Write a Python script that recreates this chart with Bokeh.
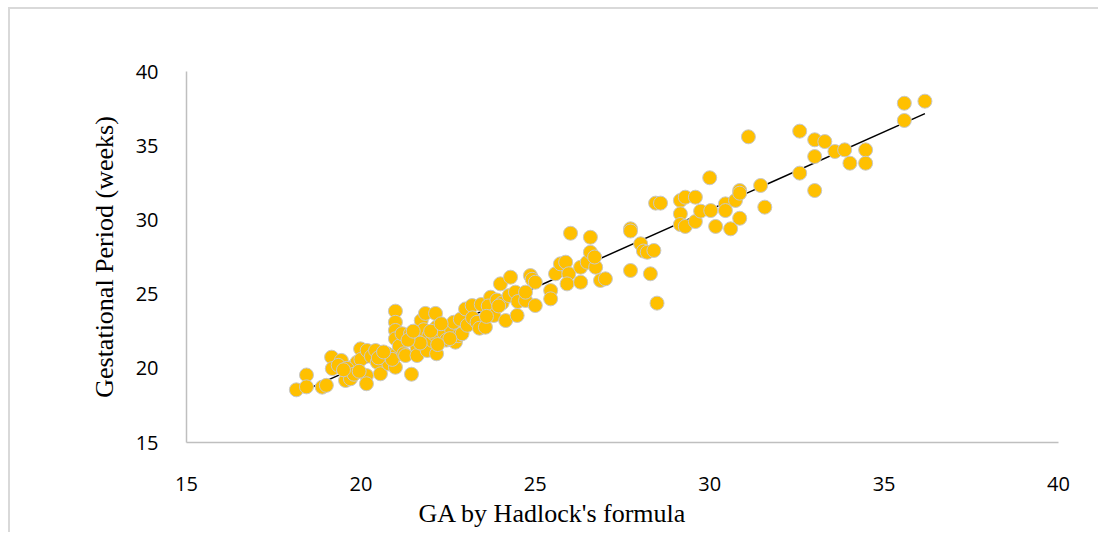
import numpy as np
from bokeh.plotting import figure
from bokeh.models import Range1d, Title, FixedTicker
from bokeh.embed import file_html
from bokeh.resources import INLINE

# GA by Hadlock's formula (x) vs Gestational Period in weeks (y)
ga_hadlock = [
    18.15, 18.44, 18.44, 18.89, 19.01,
    19.16, 19.18, 19.44, 19.35, 19.56, 19.70, 19.75, 19.89, 19.99, 19.60, 19.80, 20.00,
    20.18, 20.16, 20.16, 20.30, 20.42, 20.47, 20.56, 20.60, 20.75, 20.80, 20.99, 20.99,
    20.99, 20.99, 20.99, 20.99, 21.10, 20.90,
    21.18, 21.23, 21.28, 21.42, 21.45, 21.55, 21.61, 21.61, 21.73, 21.85, 21.90, 21.80,
    21.95, 22.05, 22.14, 22.17, 22.17, 22.10, 21.70,
    22.38, 22.45, 22.60, 22.66, 22.71, 22.80, 22.90, 22.85, 23.00, 23.05, 23.19, 23.20,
    23.33, 23.45, 23.40,
    23.57, 23.72, 23.65, 23.81, 23.90, 24.00, 24.05, 24.15, 24.29, 24.25, 24.43, 24.48,
    24.50, 24.72, 24.72, 24.86, 24.91, 25.00, 25.00,
    25.44, 25.44, 25.58, 25.72, 25.87, 25.96, 25.91, 26.01, 26.30, 26.30, 26.49, 26.58,
    26.58, 26.73, 26.87, 27.01, 26.70,
    27.73, 27.73, 27.73, 28.02, 28.10, 28.21, 28.30, 28.40, 28.49, 28.45, 28.59,
    29.16, 29.30, 29.59, 29.16, 29.16, 29.30, 29.59, 29.74, 30.03, 30.00, 30.17, 30.45,
    30.45, 30.60, 30.74, 30.86, 30.86, 30.86, 31.11, 31.46, 31.58,
    32.58, 32.58, 33.01, 33.30, 33.01, 33.01, 33.59, 33.87, 34.02, 34.47, 34.47, 35.58,
    35.58, 36.17,
    19.50, 19.95, 20.50, 20.65, 21.35, 21.50, 22.00, 22.30, 22.55, 23.60, 23.95, 22.20,
]
gestational_weeks = [
    18.55, 19.55, 18.75, 18.73, 18.85,
    20.75, 19.98, 20.53, 20.20, 19.18, 19.29, 20.07, 20.41, 21.31, 20.00, 19.60, 20.60,
    21.20, 19.51, 18.96, 20.80, 21.20, 20.41, 19.63, 20.90, 20.98, 20.30, 20.07, 23.85,
    23.10, 22.55, 21.99, 20.86, 21.50, 20.60,
    22.33, 20.98, 20.86, 22.33, 19.60, 21.90, 21.42, 20.86, 23.22, 23.70, 21.20, 22.60,
    22.20, 21.87, 23.70, 22.77, 20.98, 22.30, 21.70,
    22.40, 21.90, 22.60, 23.10, 21.76, 22.20, 22.33, 23.30, 24.00, 22.90, 24.23, 23.40,
    23.10, 24.30, 22.70,
    22.77, 24.79, 24.20, 23.56, 24.60, 25.69, 24.40, 23.22, 26.14, 24.90, 25.13, 23.56,
    24.50, 24.57, 25.13, 26.25, 26.00, 25.80, 24.23,
    25.24, 24.68, 26.37, 27.04, 27.15, 26.37, 25.69, 29.10, 26.81, 25.80, 27.15, 27.82,
    28.83, 26.81, 25.92, 26.03, 27.50,
    29.40, 29.25, 26.59, 28.39, 27.90, 27.82, 26.37, 27.94, 24.39, 31.13, 31.13,
    31.31, 31.53, 31.53, 30.41, 29.69, 29.56, 29.89, 30.59, 30.63, 32.84, 29.56, 31.08,
    30.63, 29.40, 31.31, 31.98, 31.80, 30.11, 35.60, 32.32, 30.86,
    35.98, 33.15, 35.40, 35.28, 34.27, 31.98, 34.61, 34.72, 33.82, 34.72, 33.82, 37.86,
    36.70, 38.00,
    19.90, 19.80, 20.70, 21.10, 21.90, 22.50, 22.50, 23.00, 22.00, 23.50, 24.20, 21.60,
]

x_ticks = [15, 20, 25, 30, 35, 40]
y_ticks = [15, 20, 25, 30, 35, 40]
x_title = "GA by Hadlock's formula"
y_title = "Gestational Period (weeks)"

x = np.array(ga_hadlock)
y = np.array(gestational_weeks)
slope, intercept = np.polyfit(x, y, 1)
trend_x = np.array([x.min(), x.max()])
trend_y = slope * trend_x + intercept

p = figure(
    frame_width=872, frame_height=371,
    min_border_left=176, min_border_top=62, min_border_right=40, min_border_bottom=90,
    x_range=Range1d(15, 40), y_range=Range1d(15, 40),
    output_backend="svg", toolbar_location=None,
    background_fill_color="white", border_fill_color="white",
    styles={"margin-left": "8px", "margin-top": "7px",
            "border-left": "2px solid #D9D9D9", "border-top": "2px solid #D9D9D9"},
)
p.outline_line_color = None
p.grid.visible = False

p.line(trend_x, trend_y, line_color="black", line_width=1.5)
p.scatter(x, y, size=14, fill_color="#FFC000", line_color="#C8C8C8", line_width=1)

for ax, ticks in ((p.xaxis[0], x_ticks), (p.yaxis[0], y_ticks)):
    ax.ticker = FixedTicker(ticks=ticks)
    ax.axis_line_color = "#BFBFBF"
    ax.axis_line_width = 1.5
    ax.major_tick_line_color = None
    ax.minor_tick_line_color = None
    ax.major_label_text_font = "Open Sans"
    ax.major_label_text_font_size = "20px"
    ax.major_label_text_color = "#000000"

p.xaxis.major_label_standoff = 28
p.yaxis.major_label_standoff = 22

p.yaxis.axis_label = y_title
p.yaxis.axis_label_text_font = "Liberation Serif"
p.yaxis.axis_label_text_font_size = "26px"
p.yaxis.axis_label_text_font_style = "normal"
p.yaxis.axis_label_text_color = "#000000"
p.yaxis.axis_label_standoff = 14

p.add_layout(Title(text=x_title, align="left", offset=232, text_font="Liberation Serif",
                   text_font_size="26px", text_font_style="normal", text_color="#000000",
                   standoff=6), "below")

open("out.html", "w").write(file_html(p, INLINE))
